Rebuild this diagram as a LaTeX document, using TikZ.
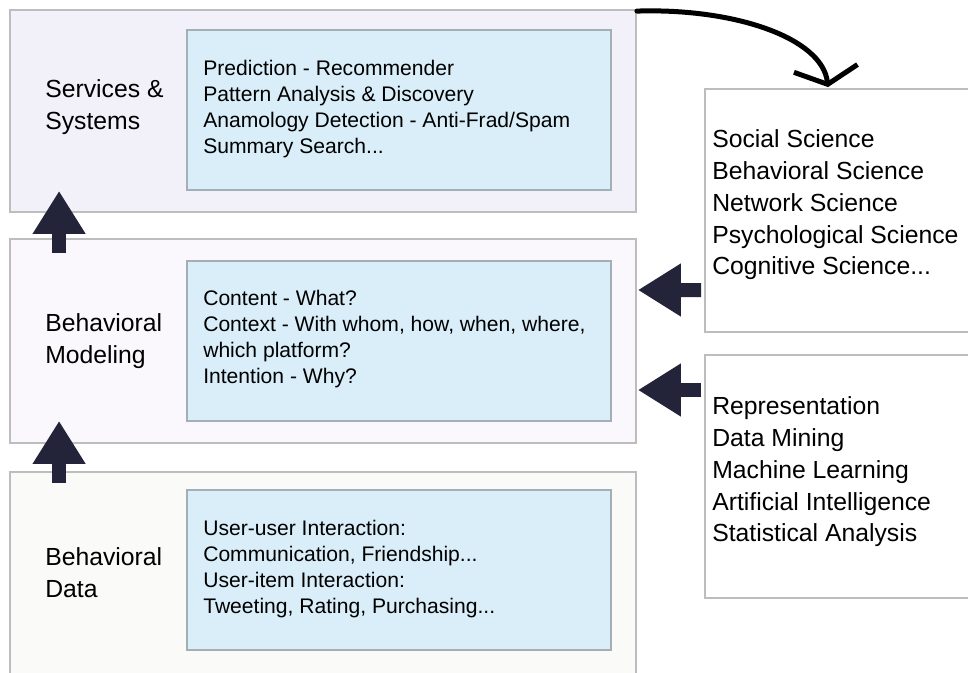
\documentclass[tikz,border=0pt]{standalone}
\usepackage{fontspec}
\setmainfont{Liberation Sans}
\usetikzlibrary{arrows.meta}
\definecolor{servfill}{HTML}{F2F1FA}
\definecolor{modelfill}{HTML}{FAF8FC}
\definecolor{datafill}{HTML}{FAFAF8}
\definecolor{innerfill}{HTML}{D9EEF9}
\definecolor{boxline}{HTML}{BDBDBD}
\definecolor{innerline}{HTML}{A3AEB5}
\definecolor{arrowdark}{HTML}{23233A}
\begin{document}
\begin{tikzpicture}
          [x=0.025cm,y=-0.025cm,
          layer/.style={shape=rectangle,draw=boxline,line width=1.3pt,minimum width=626*0.025cm,inner sep=0pt},
          inner/.style={shape=rectangle,draw=innerline,fill=innerfill,line width=1pt,minimum width=424*0.025cm,minimum height=160*0.025cm},
          innertext/.style={anchor=west,align=left,inner sep=0pt,font=\fontsize{15}{18.5}\selectfont},
          side/.style={shape=rectangle,draw=boxline,fill=white,line width=1.3pt,minimum width=285*0.025cm,minimum height=243*0.025cm},
          title/.style={anchor=west,align=left,inner sep=0pt,font=\fontsize{17.6}{22.6}\selectfont},
          up/.style={draw=arrowdark,line width=14*0.025cm,-{Triangle[width=50*0.025cm,length=43*0.025cm]}},
          curve/.style={draw=black,line width=5*0.025cm,line cap=round,-{Straight Barb[length=16*0.025cm,width=64*0.025cm]}}]

            \useasboundingbox (0,0) rectangle (968,672);

            % three layers
            \node (serv) [layer,fill=servfill,minimum height=202*0.025cm] at (323,111) {};
            \node (model) [layer,fill=modelfill,minimum height=204*0.025cm] at (323,341) {};
            \node (data) [layer,fill=datafill,minimum height=228*0.025cm] at (323,586) {};

            \node (servtitle) [title] at (45,107) {Services \&\\Systems};
            \node (modeltitle) [title] at (45,341) {Behavioral\\Modeling};
            \node (datatitle) [title] at (45,573) {Behavioral\\Data};

            \node (servbox) [inner] at (399,110) {};
            \node (modelbox) [inner] at (399,341) {};
            \node (databox) [inner] at (399,570) {};
            \node (servlist) [innertext] at (203,109.5) {Prediction - Recommender\\Pattern Analysis \& Discovery\\Anamology Detection - Anti-Frad/Spam\\Summary Search...};
            \node (modellist) [innertext] at (203,339) {Content - What?\\Context - With whom, how, when, where,\\which platform?\\Intention - Why?};
            \node (datalist) [innertext] at (203,569) {User-user Interaction:\\Communication, Friendship...\\User-item Interaction:\\Tweeting, Rating, Purchasing...};

            % sciences and methods
            \node (sci) [side] at (847.5,210.5) {};
            \node (meth) [side] at (847.5,476.5) {};
            \node (scitext) [title] at (712,205) {Social Science\\Behavioral Science\\Network Science\\Psychological Science\\Cognitive Science...};
            \node (methtext) [title] at (712,472) {Representation\\Data Mining\\Machine Learning\\Artificial Intelligence\\Statistical Analysis};

            \draw [up] ([shift={(50,15)}]model.north west) -- ([shift={(50,-22)}]serv.south west);
            \draw [up] ([shift={(50,12)}]data.north west) -- ([shift={(50,-23)}]model.south west);
            \draw [up] ([shift={(-3,79.5)}]sci.west) -- ([shift={(1,-51)}]model.east);
            \draw [up] ([shift={(-3,-86.5)}]meth.west) -- ([shift={(1,49)}]model.east);
            \draw [curve] ([shift={(0,2)}]serv.north east) .. controls (735,8) and (822,38) .. ([shift={(-19.5,-1)}]sci.north);

        \end{tikzpicture}
\end{document}
